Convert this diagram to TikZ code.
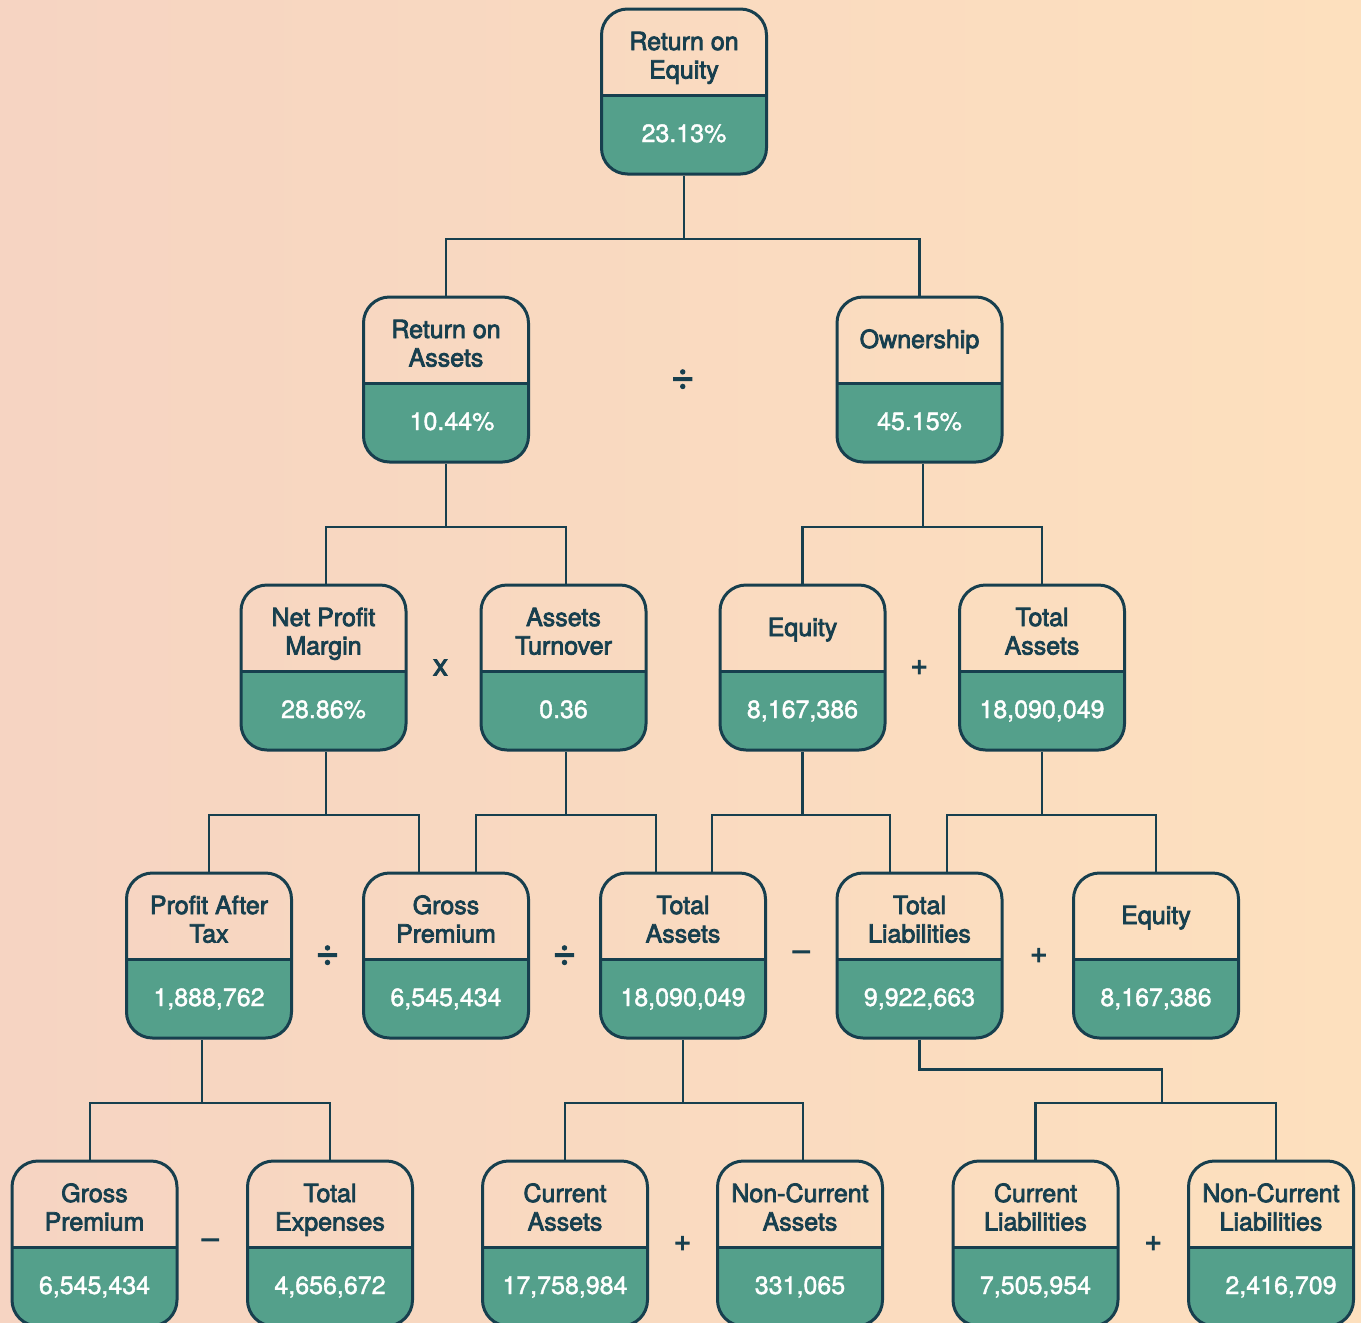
\documentclass[tikz,border=0pt]{standalone}
\usepackage{fontspec}
\setmainfont{TeX Gyre Heros}
\newfontfamily\headfont[FakeBold=3]{TeX Gyre Heros}
\newfontfamily\valfont[FakeBold=1.5]{TeX Gyre Heros}
\usetikzlibrary{calc}
\definecolor{ink}{HTML}{173F4E}
\definecolor{sea}{HTML}{54A08B}
\definecolor{bgl}{HTML}{F6D4C2}
\definecolor{bgr}{HTML}{FDE0BE}
\tikzset{wire/.style={draw=ink, line width=2.6pt},
card/.style={draw=ink, line width=3pt, rounded corners=26pt, minimum width=165pt, minimum height=165pt, inner sep=0pt,
 path picture={\fill[sea, sharp corners] (path picture bounding box.south west) rectangle ([yshift=79pt]path picture bounding box.south east);
 \draw[ink, line width=3pt, sharp corners] ([yshift=79pt]path picture bounding box.south west) -- ([yshift=79pt]path picture bounding box.south east);}},
head/.style={font=\headfont\fontsize{25}{28.5}\selectfont, text=ink, align=center, inner sep=0pt, anchor=base},
val/.style={font=\valfont\fontsize{25}{28.5}\selectfont, text=white, inner sep=0pt, anchor=base},
sign/.style={font=\headfont\fontsize{30}{34}\selectfont, text=ink, inner sep=0pt},
divsign/.style={sign, font=\headfont\fontsize{40}{44}\selectfont}}

\begin{document}
\begin{tikzpicture}[x=1pt, y=-1pt]
\useasboundingbox (0,0) rectangle (1361,1323);
\shade[left color=bgl, right color=bgr] (0,0) rectangle (1361,1323);

% Level 0
\node[card] (roe) at (684,91.5) {};
\node[head] (roe-h) at ([yshift=-71pt]roe.north) {Return on\\Equity};
\node[val] (roe-v) at ([yshift=33.5pt]roe.south) {23.13\%};

% Level 1
\node[card] (roa) at (446,379.5) {};
\node[head] (roa-h) at ([yshift=-71pt]roa.north) {Return on\\Assets};
\node[val] (roa-v) at ([xshift=6pt,yshift=33.5pt]roa.south) {10.44\%};
\node[card] (own) at (919.5,379.5) {};
\node[head] (own-h) at ([yshift=-52.5pt]own.north) {Ownership};
\node[val] (own-v) at ([yshift=33.5pt]own.south) {45.15\%};

% Level 2
\node[card] (npm) at (323.5,667.5) {};
\node[head] (npm-h) at ([yshift=-71pt]npm.north) {Net Profit\\Margin};
\node[val] (npm-v) at ([yshift=33.5pt]npm.south) {28.86\%};
\node[card] (at) at (563.5,667.5) {};
\node[head] (at-h) at ([yshift=-71pt]at.north) {Assets\\Turnover};
\node[val] (at-v) at ([yshift=33.5pt]at.south) {0.36};
\node[card] (eq2) at (802.5,667.5) {};
\node[head] (eq2-h) at ([yshift=-52.5pt]eq2.north) {Equity};
\node[val] (eq2-v) at ([yshift=33.5pt]eq2.south) {8,167,386};
\node[card] (ta2) at (1042,667.5) {};
\node[head] (ta2-h) at ([yshift=-71pt]ta2.north) {Total\\Assets};
\node[val] (ta2-v) at ([yshift=33.5pt]ta2.south) {18,090,049};

% Level 3
\node[card] (pat) at (209,955.5) {};
\node[head] (pat-h) at ([yshift=-71pt]pat.north) {Profit After\\Tax};
\node[val] (pat-v) at ([yshift=33.5pt]pat.south) {1,888,762};
\node[card] (gp3) at (446,955.5) {};
\node[head] (gp3-h) at ([yshift=-71pt]gp3.north) {Gross\\Premium};
\node[val] (gp3-v) at ([yshift=33.5pt]gp3.south) {6,545,434};
\node[card] (ta3) at (683,955.5) {};
\node[head] (ta3-h) at ([yshift=-71pt]ta3.north) {Total\\Assets};
\node[val] (ta3-v) at ([yshift=33.5pt]ta3.south) {18,090,049};
\node[card] (tl3) at (919.5,955.5) {};
\node[head] (tl3-h) at ([yshift=-71pt]tl3.north) {Total\\Liabilities};
\node[val] (tl3-v) at ([yshift=33.5pt]tl3.south) {9,922,663};
\node[card] (eq3) at (1156,955.5) {};
\node[head] (eq3-h) at ([yshift=-52.5pt]eq3.north) {Equity};
\node[val] (eq3-v) at ([yshift=33.5pt]eq3.south) {8,167,386};

% Level 4
\node[card] (gp4) at (94.5,1243.5) {};
\node[head] (gp4-h) at ([yshift=-71pt]gp4.north) {Gross\\Premium};
\node[val] (gp4-v) at ([yshift=33.5pt]gp4.south) {6,545,434};
\node[card] (te4) at (330,1243.5) {};
\node[head] (te4-h) at ([yshift=-71pt]te4.north) {Total\\Expenses};
\node[val] (te4-v) at ([yshift=33.5pt]te4.south) {4,656,672};
\node[card] (ca) at (565,1243.5) {};
\node[head] (ca-h) at ([yshift=-71pt]ca.north) {Current\\Assets};
\node[val] (ca-v) at ([yshift=33.5pt]ca.south) {17,758,984};
\node[card] (nca) at (800,1243.5) {};
\node[head] (nca-h) at ([yshift=-71pt]nca.north) {Non-Current\\Assets};
\node[val] (nca-v) at ([yshift=33.5pt]nca.south) {331,065};
\node[card] (cl) at (1035.5,1243.5) {};
\node[head] (cl-h) at ([yshift=-71pt]cl.north) {Current\\Liabilities};
\node[val] (cl-v) at ([yshift=33.5pt]cl.south) {7,505,954};
\node[card] (ncl) at (1271,1243.5) {};
\node[head] (ncl-h) at ([yshift=-71pt]ncl.north) {Non-Current\\Liabilities};
\node[val] (ncl-v) at ([xshift=10pt,yshift=33.5pt]ncl.south) {2,416,709};

% Operators
\node[divsign] (op1) at ($(roa)!.5!(own)$) {÷};
\node[sign] (op2) at ($(npm)!.5!(at)+(-3,0)$) {x};
\node[sign] (op3) at ($(eq2)!.5!(ta2)+(-3,0)$) {+};
\node[divsign] (op4) at ($(pat)!.5!(gp3)$) {÷};
\node[divsign] (op5) at ($(gp3)!.5!(ta3)$) {÷};
\node[sign] (op6) at ($(ta3)!.5!(tl3)$) {–};
\node[sign] (op7) at ($(tl3)!.5!(eq3)+(1,0)$) {+};
\node[sign] (op8) at ($(gp4)!.5!(te4)+(-2,0)$) {–};
\node[sign] (op9) at ($(ca)!.5!(nca)$) {+};
\node[sign] (op10) at ($(cl)!.5!(ncl)$) {+};

% Connectors
\draw[wire] (roa.north) -- ++(0,-56.5) -| (roe.south);
\draw[wire] (own.north) -- ++(0,-56.5) -| (roe.south);
\draw[wire] ([xshift=2.5pt]npm.north) -- ++(0,-56.5) -| (roa.south);
\draw[wire] ([xshift=2.5pt]at.north) -- ++(0,-56.5) -| (roa.south);
\draw[wire] (eq2.north) -- ++(0,-56.5) -| ([xshift=3.5pt]own.south);
\draw[wire] (ta2.north) -- ++(0,-56.5) -| ([xshift=3.5pt]own.south);
\draw[wire] (pat.north) -- ++(0,-56.5) -| ([xshift=2.5pt]npm.south);
\draw[wire] ([xshift=-27pt]gp3.north) -- ++(0,-56.5) -| ([xshift=2.5pt]npm.south);
\draw[wire] ([xshift=30pt]gp3.north) -- ++(0,-56.5) -| ([xshift=2.5pt]at.south);
\draw[wire] ([xshift=-27pt]ta3.north) -- ++(0,-56.5) -| ([xshift=2.5pt]at.south);
\draw[wire] ([xshift=29pt]ta3.north) -- ++(0,-56.5) -| (eq2.south);
\draw[wire] ([xshift=-29.5pt]tl3.north) -- ++(0,-56.5) -| (eq2.south);
\draw[wire] ([xshift=27.5pt]tl3.north) -- ++(0,-56.5) -| (ta2.south);
\draw[wire] (eq3.north) -- ++(0,-56.5) -| (ta2.south);
\draw[wire] ([xshift=-4.5pt]gp4.north) -- ++(0,-56.5) -| ([xshift=-7pt]pat.south);
\draw[wire] (te4.north) -- ++(0,-56.5) -| ([xshift=-7pt]pat.south);
\draw[wire] (ca.north) -- ++(0,-56.5) -| (ta3.south);
\draw[wire] ([xshift=3pt]nca.north) -- ++(0,-56.5) -| (ta3.south);
\draw[wire] (cl.north) -- ++(0,-56.5) -| ([xshift=5pt]ncl.north);
\draw[wire] (tl3.south) -- ++(0,30) -| ([xshift=126.5pt,yshift=56.5pt]cl.north);
\end{tikzpicture}
\end{document}
